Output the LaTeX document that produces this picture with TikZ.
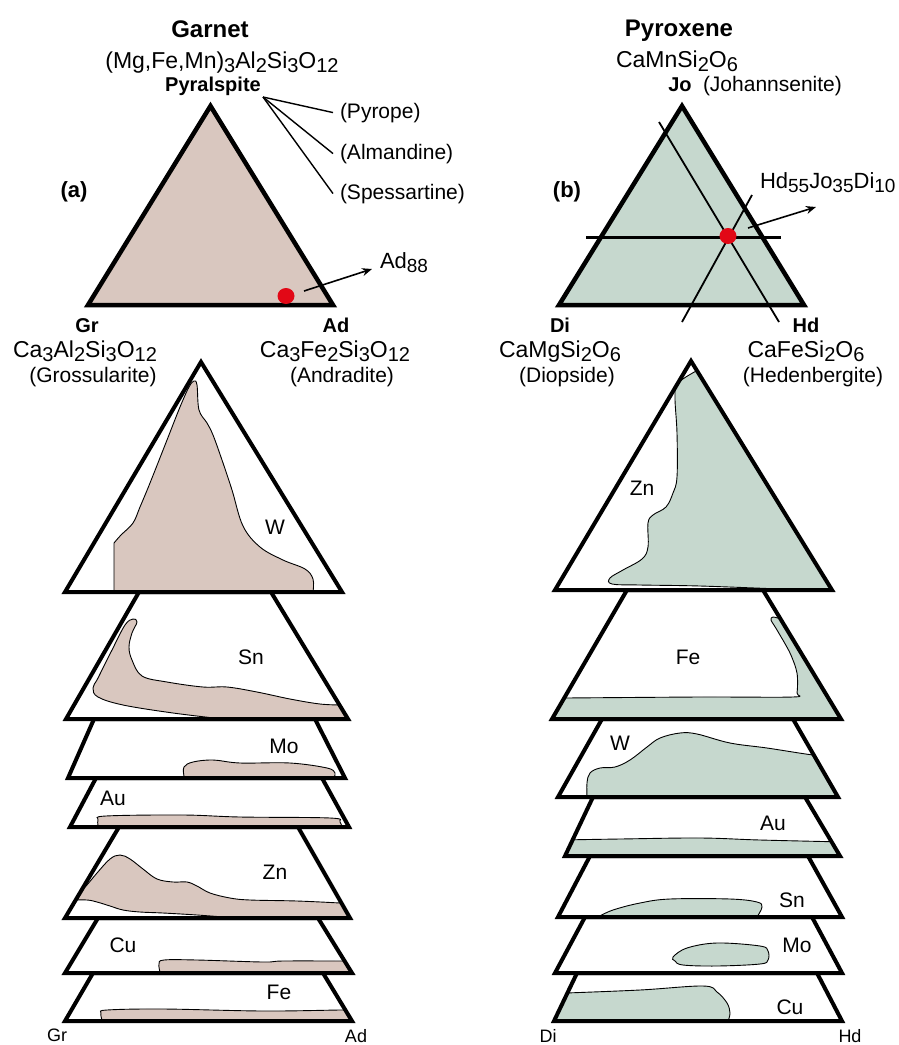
\documentclass[tikz,border=0pt]{standalone}
\usepackage{fontspec}
\setmainfont{Liberation Sans}
\usetikzlibrary{arrows.meta,shapes.geometric}
\definecolor{grt}{RGB}{217,199,191}
\definecolor{pyx}{RGB}{198,216,206}
\definecolor{dotred}{RGB}{226,8,22}
\newcommand\fsz[1]{\fontsize{#1}{#1}\selectfont}
\newcommand\sbx[1]{\raisebox{-4pt}{\fsz{20}#1}}
\newcommand\sby[1]{\raisebox{-4pt}{\fsz{19}#1}}
\tikzset{
  frame/.style={line width=4pt, line join=miter},
  topframe/.style={line width=4.5pt, line join=miter},
  gblob/.style={fill=grt, draw=black, line width=0.9pt},
  pblob/.style={fill=pyx, draw=black, line width=0.9pt},
  txt/.style={inner sep=0pt, outer sep=0pt},
  lbl/.style={txt, font=\fsz{21}},
  bold/.style={txt, font=\fsz{20}\bfseries},
  title/.style={txt, font=\fsz{24}\bfseries},
  form/.style={txt, font=\fsz{23}},
  paren/.style={txt, font=\fsz{21}},
  small/.style={txt, font=\fsz{18}},
  dot/.style={ellipse, fill=dotred, minimum width=17pt, minimum height=16pt, inner sep=0pt},
  arr/.style={line width=1.6pt, -{Stealth[length=10pt,width=8pt]}},
  fork/.style={line width=1.4pt},
}
\begin{document}
\begin{tikzpicture}[x=1pt,y=-1pt]
\useasboundingbox (0,0) rectangle (899,1045);

% ================= GARNET (a) =================
\node[title, anchor=base] (garnet) at (210,37) {Garnet};
\node[form, anchor=base] (gform) at (222,68) {(Mg,Fe,Mn)\sbx{3}Al\sbx{2}Si\sbx{3}O\sbx{12}};
\node[bold, anchor=base] (pyral) at (213,91) {Pyralspite};
\coordinate (fork) at (263,97);
\node[paren, anchor=base west] (pyrope) at (340,118) {(Pyrope)};
\node[paren, anchor=base west] (alm) at (340,159) {(Almandine)};
\node[paren, anchor=base west] (spess) at (340,199) {(Spessartine)};
\draw[fork] (fork) -- ([xshift=-7pt]pyrope.west);
\draw[fork] (fork) -- ([xshift=-7pt]alm.west);
\draw[fork] (fork) -- ([xshift=-7pt]spess.west);
\node[txt, font=\fsz{22}\bfseries, anchor=base] (la) at (74,197) {(a)};

\filldraw[fill=grt, topframe] (210.5,106) -- (88,305) -- (333,305) -- cycle;
\node[dot] (gdot) at (286,296) {};
\coordinate (ga1) at (304,291);
\coordinate (ga2) at (372,269);
\draw[arr] (ga1) -- (ga2);
\node[txt, font=\fsz{22}, anchor=base west] (ad88) at (380,268) {Ad\sby{88}};

\node[bold, anchor=base] (gr) at (87,332) {Gr};
\node[form, anchor=base] (grf) at (85,357) {Ca\sbx{3}Al\sbx{2}Si\sbx{3}O\sbx{12}};
\node[paren, anchor=base] (grn) at (93,382) {(Grossularite)};
\node[bold, anchor=base] (ad) at (336,332) {Ad};
\node[form, anchor=base] (adf) at (335,357) {Ca\sbx{3}Fe\sbx{2}Si\sbx{3}O\sbx{12}};
\node[paren, anchor=base] (adn) at (342,382) {(Andradite)};

% ================= PYROXENE (b) =================
\node[title, anchor=base] (pyroxene) at (679,36) {Pyroxene};
\node[form, anchor=base] (jof) at (677,67) {CaMnSi\sbx{2}O\sbx{6}};
\node[bold, anchor=base] (jo) at (680,91) {Jo};
\node[paren, anchor=base west] (jon) at (703,91) {(Johannsenite)};
\node[txt, font=\fsz{22}\bfseries, anchor=base] (lb) at (567,197) {(b)};

\filldraw[fill=pyx, topframe] (682,106) -- (559,305) -- (804,305) -- cycle;
\coordinate (h1) at (586,237);
\coordinate (h2) at (781,237);
\draw[line width=3pt] (h1) -- (h2);
\coordinate (p1a) at (659,122);
\coordinate (p1b) at (779,322);
\draw[line width=1.8pt] (p1a) -- (p1b);
\coordinate (p2a) at (752,195);
\coordinate (p2b) at (682,322);
\draw[line width=1.8pt] (p2a) -- (p2b);
\node[dot] (pdot) at (728,236) {};
\coordinate (pa1) at (748,228);
\coordinate (pa2) at (816,207);
\draw[arr] (pa1) -- (pa2);
\node[txt, font=\fsz{22}, anchor=base west] (hdjo) at (760,188) {Hd\sby{55}Jo\sby{35}Di\sby{10}};

\node[bold, anchor=base] (di) at (560,332) {Di};
\node[form, anchor=base] (dif) at (560,357) {CaMgSi\sbx{2}O\sbx{6}};
\node[paren, anchor=base] (din) at (567,382) {(Diopside)};
\node[bold, anchor=base] (hd) at (806,332) {Hd};
\node[form, anchor=base] (hdf) at (806,357) {CaFeSi\sbx{2}O\sbx{6}};
\node[paren, anchor=base] (hdn) at (813,382) {(Hedenbergite)};

% ================= LEFT STACK (garnet) =================
% W
\begin{scope}
\clip (201,362) -- (65,592) -- (342,592) -- cycle;
\filldraw[gblob] (114,600) -- plot[smooth,tension=0.6] coordinates {(114,543) (121,535) (133,523) (140,507) (150,483) (167,440) (180,407) (189,387) (194,381) (197,385) (199,410) (207,423) (213,435) (222,460) (232,490) (243,526) (260,547) (283,560) (305,569) (313,579) (313,592)} -- (313,600) -- cycle;
\end{scope}
\draw[frame] (201,362) -- (65,592) -- (342,592) -- cycle;
% Sn
\begin{scope}
\clip (139,592) -- (271,592) -- (348,719) -- (66,719) -- cycle;
\filldraw[gblob] plot[smooth,tension=0.6] coordinates {(342,705) (320,704) (290,699) (257,692) (227,687) (203,687) (167,682) (142,676) (132,660) (129,647) (132,633) (137,622) (133,619) (125,625) (112,650) (98,678) (93,688) (98,697) (123,705) (173,713) (223,719)} -- (230,725) -- (360,725) -- (360,700) -- cycle;
\end{scope}
\draw[frame] (139,592) -- (271,592) -- (348,719) -- (66,719) -- cycle;
% Mo
\begin{scope}
\clip (94,719) -- (315,719) -- (345,778) -- (68,778) -- cycle;
\filldraw[gblob] (184,782) -- plot[smooth,tension=0.6] coordinates {(184,776) (184,767) (193,762) (213,760) (240,763) (290,763) (327,768) (335,773) (334,777)} -- (334,782) -- cycle;
\end{scope}
\draw[frame] (94,719) -- (315,719) -- (345,778) -- (68,778) -- cycle;
% Au
\begin{scope}
\clip (96,778) -- (322,778) -- (349,827) -- (70,827) -- cycle;
\filldraw[gblob] plot[smooth,tension=0.6] coordinates {(99,830) (98,820) (106,816) (183,815) (240,817) (330,818) (340,822) (342,830)} -- cycle;
\end{scope}
\draw[frame] (96,778) -- (322,778) -- (349,827) -- (70,827) -- cycle;
% Zn
\begin{scope}
\clip (119,827) -- (298,827) -- (350,918) -- (65,918) -- cycle;
\filldraw[gblob] (60,893) -- plot[smooth,tension=0.6] coordinates {(77,892) (85,887) (97,873) (110,859) (120,855) (130,859) (143,869) (157,879) (173,882) (187,882) (197,886) (210,893) (230,898) (250,900) (297,901) (340,903) (352,904)} -- (360,930) -- (237,930) -- (237,918) -- plot[smooth,tension=0.6] coordinates {(237,918) (197,915) (163,913) (140,912) (123,910) (110,906) (97,902) (87,900) (70,900)} -- (60,900) -- cycle;
\end{scope}
\draw[frame] (119,827) -- (298,827) -- (350,918) -- (65,918) -- cycle;
% Cu
\begin{scope}
\clip (98,918) -- (318,918) -- (352,973) -- (65,973) -- cycle;
\filldraw[gblob] (160,978) -- plot[smooth,tension=0.6] coordinates {(160,972) (159,964) (164,960) (197,960) (263,962) (283,961) (343,961) (356,961)} -- (362,980) -- cycle;
\end{scope}
\draw[frame] (98,918) -- (318,918) -- (352,973) -- (65,973) -- cycle;
% Fe
\begin{scope}
\clip (93,973) -- (323,973) -- (352,1021) -- (65,1021) -- cycle;
\filldraw[gblob] (102,1026) -- plot[smooth,tension=0.6] coordinates {(102,1020) (101,1013) (107,1010) (163,1009) (263,1011) (340,1010) (356,1010)} -- (362,1026) -- cycle;
\end{scope}
\draw[frame] (93,973) -- (323,973) -- (352,1021) -- (65,1021) -- cycle;

\node[lbl] (gw) at (275,527) {W};
\node[lbl] (gsn) at (251,657) {Sn};
\node[lbl] (gmo) at (284,746) {Mo};
\node[lbl] (gau) at (113,798) {Au};
\node[lbl] (gzn) at (275,872) {Zn};
\node[lbl] (gcu) at (123,945) {Cu};
\node[lbl] (gfe) at (279,992) {Fe};
\node[small, anchor=base] (gr2) at (57,1041) {Gr};
\node[small, anchor=base] (ad2) at (356,1042) {Ad};

% ================= RIGHT STACK (pyroxene) =================
% Zn
\begin{scope}
\clip (691,361) -- (555,590) -- (832,590) -- cycle;
\filldraw[pblob] (780,589) -- plot[smooth,tension=0.6] coordinates {(780,589) (700,586) (640,585) (612,584) (610,578) (623,570) (642,559) (648,547) (648,523) (653,515) (666,507) (673,493) (677,477) (677,433) (675,397) (678,383) (698,370)} -- (712,364) -- (845,600) -- (780,600) -- cycle;
\end{scope}
\draw[frame] (691,361) -- (555,590) -- (832,590) -- cycle;
% Fe
\begin{scope}
\clip (627,590) -- (763,590) -- (841,719) -- (552,719) -- cycle;
\filldraw[pblob] (540,698) -- plot[smooth,tension=0.5] coordinates {(565,698) (700,697) (793,697) (797,693) (797,673) (790,653) (777,630) (771,620) (773,617) (781,619)} -- (795,612) -- (850,725) -- (540,725) -- cycle;
\end{scope}
\draw[frame] (627,590) -- (763,590) -- (841,719) -- (552,719) -- cycle;
% W
\begin{scope}
\clip (602,719) -- (793,719) -- (838,797) -- (558,797) -- cycle;
\filldraw[pblob] (587,802) -- plot[smooth,tension=0.6] coordinates {(587,797) (587,783) (590,773) (600,768) (615,767) (630,760) (647,747) (660,738) (680,733) (697,734) (730,743) (767,748) (813,755) (832,756)} -- (850,802) -- cycle;
\end{scope}
\draw[frame] (602,719) -- (793,719) -- (838,797) -- (558,797) -- cycle;
% Au
\begin{scope}
\clip (593,797) -- (805,797) -- (840,856) -- (565,856) -- cycle;
\filldraw[pblob] (550,840) -- plot[smooth,tension=0.6] coordinates {(560,840) (620,839) (700,838) (760,840) (845,842)} -- (850,862) -- (550,862) -- cycle;
\end{scope}
\draw[frame] (593,797) -- (805,797) -- (840,856) -- (565,856) -- cycle;
% Sn
\begin{scope}
\clip (590,856) -- (808,856) -- (842,917) -- (558,917) -- cycle;
\filldraw[pblob] plot[smooth,tension=0.6] coordinates {(598,917) (613,910) (640,903) (670,899) (730,899) (757,902) (762,907) (757,917)} -- cycle;
\end{scope}
\draw[frame] (590,856) -- (808,856) -- (842,917) -- (558,917) -- cycle;
% Mo
\begin{scope}
\clip (585,917) -- (812,917) -- (842,973) -- (555,973) -- cycle;
\filldraw[pblob] plot[smooth cycle,tension=0.6] coordinates {(673,957) (687,948) (717,943) (760,946) (768,951) (768,960) (760,964) (717,966) (683,965) (675,961)};
\end{scope}
\draw[frame] (585,917) -- (812,917) -- (842,973) -- (555,973) -- cycle;
% Cu
\begin{scope}
\clip (577,973) -- (817,973) -- (842,1021) -- (554,1021) -- cycle;
\filldraw[pblob] (545,993) -- plot[smooth,tension=0.6] coordinates {(566,993) (640,990) (703,986) (717,992) (727,1003) (730,1013) (728,1021)} -- (728,1026) -- (545,1026) -- cycle;
\end{scope}
\draw[frame] (577,973) -- (817,973) -- (842,1021) -- (554,1021) -- cycle;

\node[lbl] (pzn) at (642,488) {Zn};
\node[lbl] (pfe) at (688,657) {Fe};
\node[lbl] (pw) at (620,743) {W};
\node[lbl] (pau) at (773,823) {Au};
\node[lbl] (psn) at (792,900) {Sn};
\node[lbl] (pmo) at (797,945) {Mo};
\node[lbl] (pcu) at (790,1007) {Cu};
\node[small, anchor=base] (di2) at (548,1042) {Di};
\node[small, anchor=base] (hd2) at (850,1042) {Hd};
\end{tikzpicture}
\end{document}
